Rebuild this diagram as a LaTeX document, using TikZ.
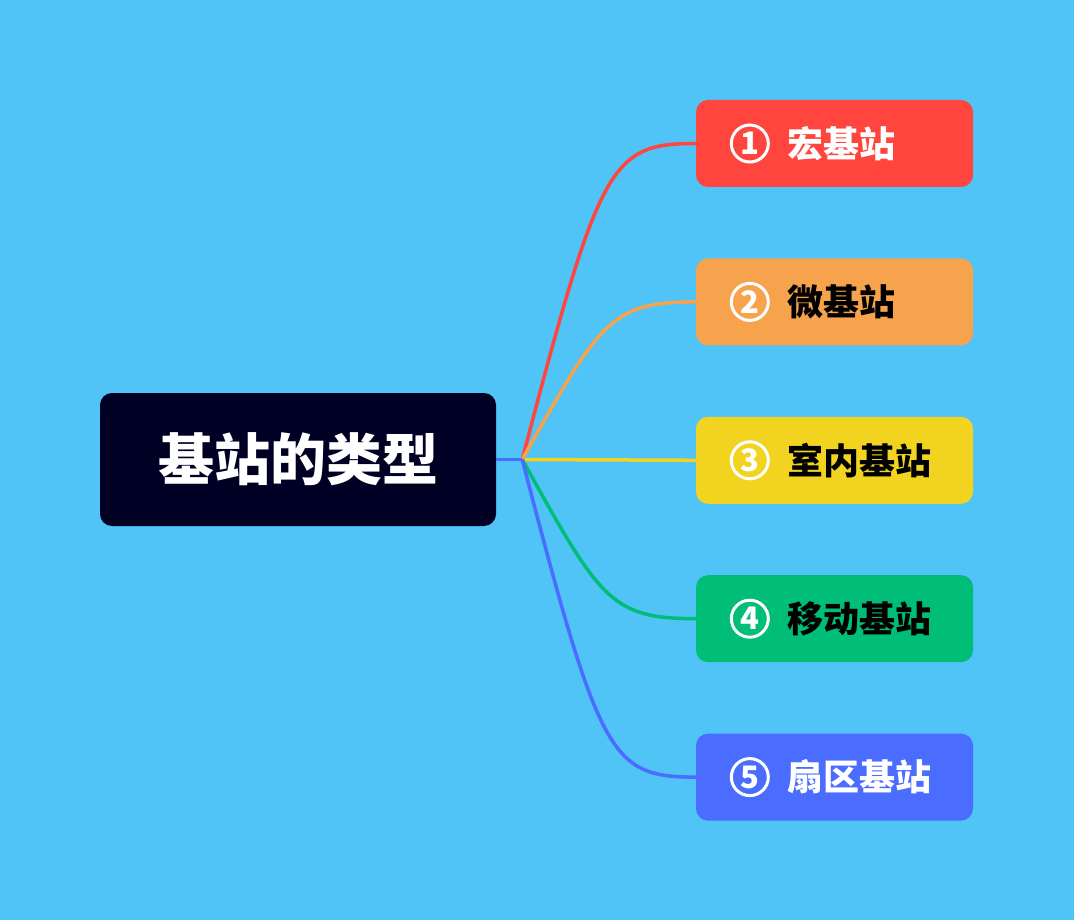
\documentclass[tikz,border=0pt]{standalone}
\usepackage{fontspec}
\usetikzlibrary{positioning, calc}
\newfontfamily\cjk{Noto Sans CJK SC}
\definecolor{skybg}{RGB}{80,195,247}
\definecolor{rootnavy}{RGB}{0,0,36}
\definecolor{kindred}{RGB}{255,69,61}
\definecolor{kindorange}{RGB}{247,162,76}
\definecolor{kindyellow}{RGB}{242,211,31}
\definecolor{kindgreen}{RGB}{0,190,120}
\definecolor{kindblue}{RGB}{74,108,255}

\begin{document}
\begin{tikzpicture}[x=1pt, y=-1pt, node distance=71pt,
  root/.style={rectangle, rounded corners=12pt, fill=rootnavy, minimum width=396pt, minimum height=133pt, text=white, font=\cjk\bfseries\fontsize{56}{60}\selectfont},
  kind/.style={rectangle, rounded corners=12pt, minimum width=277pt, minimum height=87pt, inner sep=0pt},
  num/.style={circle, draw=white, line width=3pt, minimum size=37pt, inner sep=0pt, text=white, font=\cjk\bfseries\fontsize{31}{31}\selectfont},
  kindtext/.style={anchor=west, inner sep=0pt, font=\cjk\bfseries\fontsize{36}{40}\selectfont},
  branch/.style={line width=3.5pt}
]
\fill[skybg] (0,0) rectangle (1074,920);
\node[root] (root) at (298,459.5) {基站的类型};
\node[kind, fill=kindred] (k1) at (834.5,143.5) {};
\node[kind, fill=kindorange, below=of k1] (k2) {};
\node[kind, fill=kindyellow, below=of k2] (k3) {};
\node[kind, fill=kindgreen, below=of k3] (k4) {};
\node[kind, fill=kindblue, below=of k4] (k5) {};
% numbers and names
\foreach \k/\n/\name/\tc in {k1/1/宏基站/white, k2/2/微基站/black, k3/3/室内基站/black, k4/4/移动基站/black, k5/5/扇区基站/white} {
  \node[num] (n\n) at ($(\k.west)+(54,0)$) {\n};
  \node[kindtext, text=\tc] (t\n) at ($(n\n.east)+(17,0)$) {\name};
}
% branches
\coordinate (hub) at ($(root.east)+(26,0)$);
\draw[branch, kindyellow] (hub) -- (k3.west);
\foreach \k/\col/\off in {k1/kindred/20, k2/kindorange/20, k4/kindgreen/-20, k5/kindblue/-20}
  \draw[branch, \col] (hub) .. controls ($(\k.west)+(-96,\off)$) and ($(\k.west)+(-86,0)$) .. (\k.west);
\draw[branch, kindblue] (root.east) -- (hub);
\end{tikzpicture}
\end{document}
